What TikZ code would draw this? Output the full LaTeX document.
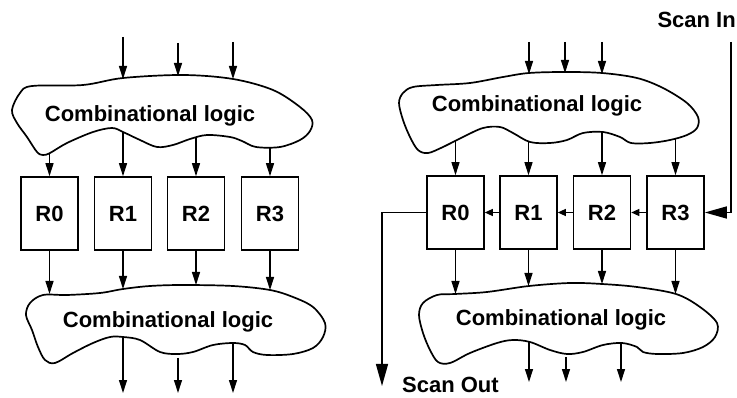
\documentclass[tikz,border=0pt]{standalone}
\usepackage{fontspec}
\setmainfont{Liberation Sans}
\usetikzlibrary{arrows.meta}
\begin{document}
\begin{tikzpicture}[x=1pt,y=-1pt,
  reg/.style={draw,line width=1.6pt,minimum width=57pt,minimum height=73pt,inner sep=0pt,
    font=\bfseries\fontsize{22}{26}\selectfont},
  sig/.style={line width=1.2pt,-{Triangle[length=13pt,width=8pt]}},
  scan/.style={line width=1.2pt,-{Triangle[length=8pt,width=7pt]}},
  scanio/.style={line width=1.4pt,-{Triangle[length=22pt,width=12pt]}},
  blob/.style={draw,fill=white,line width=1.7pt,line join=round},
  lbl/.style={font=\bfseries\fontsize{22}{26}\selectfont,inner sep=0pt}]
\useasboundingbox (0,0) rectangle (737,398);

% ---------- registers ----------
\node[reg] (l0) at (49.5,213.5) {R0};
\node[reg] (l1) at (123,213.5) {R1};
\node[reg] (l2) at (196,213.5) {R2};
\node[reg] (l3) at (270,213.5) {R3};
\node[reg] (r0) at (455.5,212.5) {R0};
\node[reg] (r1) at (528.5,212.5) {R1};
\node[reg] (r2) at (602,212.5) {R2};
\node[reg] (r3) at (675.5,212.5) {R3};

% ---------- signals leaving a logic cloud (start hidden under the cloud) ----------
\coordinate (lu0) at (49.5,145);  \coordinate (lu1) at (123,125);
\coordinate (lu2) at (196,130);   \coordinate (lu3) at (270,140);
\draw[sig] (lu0) -- (l0.north);
\draw[sig] (lu1) -- (l1.north);
\draw[sig] (lu2) -- (l2.north);
\draw[sig] (lu3) -- (l3.north);
\coordinate (ru0) at (455.5,138); \coordinate (ru1) at (528.5,135);
\coordinate (ru2) at (602,127);   \coordinate (ru3) at (675.5,133);
\draw[sig] (ru0) -- (r0.north);
\draw[sig] (ru1) -- (r1.north);
\draw[sig] (ru2) -- (r2.north);
\draw[sig] (ru3) -- (r3.north);
% outputs
\coordinate (lo1) at (123,330); \coordinate (lo1e) at (123,393);
\coordinate (lo2) at (178,358); \coordinate (lo2e) at (178,393);
\coordinate (lo3) at (233,338); \coordinate (lo3e) at (233,393);
\draw[sig] (lo1) -- (lo1e);
\draw[sig] (lo2) -- (lo2e);
\draw[sig] (lo3) -- (lo3e);
\coordinate (ro1) at (529,336); \coordinate (ro1e) at (529,382);
\coordinate (ro2) at (566,357); \coordinate (ro2e) at (566,382);
\coordinate (ro3) at (621,337); \coordinate (ro3e) at (621,382);
\draw[sig] (ro1) -- (ro1e);
\draw[sig] (ro2) -- (ro2e);
\draw[sig] (ro3) -- (ro3e);

% ---------- combinational logic clouds ----------
\draw[blob] plot[smooth cycle,tension=0.55] coordinates {
  (12,110) (20,93) (32,86) (83,85) (123,78) (183,75) (233,79) (273,90) (300,107)
  (312,120) (310,131) (300,140) (280,147) (256,147) (242,141) (230,137) (207,135)
  (190,139) (173,145) (157,147) (140,140) (123,132) (112,128) (93,132) (67,143)
  (50,153) (43,155) (37,152) (27,137) (17,123)};
\draw[blob] plot[smooth cycle,tension=0.55] coordinates {
  (26,315) (30,303) (43,295) (67,295) (100,293) (123,289) (150,286) (183,285)
  (233,286) (270,290) (293,297) (313,307) (325,323) (323,337) (313,348) (293,354)
  (267,355) (253,352) (245,345) (233,343) (213,345) (193,352) (177,354) (160,352)
  (140,340) (123,337) (110,337) (93,343) (73,353) (55,363) (45,360) (38,347) (32,330)};
\draw[blob] plot[smooth cycle,tension=0.55] coordinates {
  (399,103) (403,93) (413,87) (437,85) (470,83) (503,77) (529,73) (565,72) (602,73)
  (637,78) (663,88) (687,103) (698,117) (697,128) (687,135) (670,140) (650,143)
  (631,143) (620,137) (603,132) (583,133) (567,140) (550,143) (530,142) (513,133)
  (500,127) (483,128) (463,137) (443,147) (428,153) (418,150) (410,137) (403,120)};
\draw[blob] plot[smooth cycle,tension=0.55] coordinates {
  (419,315) (423,303) (437,295) (455,294) (487,292) (529,286) (570,283) (602,284)
  (637,287) (676,294) (700,307) (717,323) (715,337) (703,347) (683,353) (657,354)
  (643,352) (637,347) (622,343) (603,345) (583,352) (567,354) (550,350) (530,342)
  (513,340) (497,343) (470,353) (450,363) (438,362) (430,350) (423,333)};

\node[lbl,anchor=base] (tlu) at (150,122) {Combinational logic};
\node[lbl,anchor=base] (tll) at (168,327) {Combinational logic};
\node[lbl,anchor=base] (tru) at (537,111.5) {Combinational logic};
\node[lbl,anchor=base] (trl) at (561,326) {Combinational logic};

% ---------- signals entering a logic cloud ----------
\coordinate (li1) at (123,37); \coordinate (li1e) at (123,79);
\coordinate (li2) at (178,43); \coordinate (li2e) at (178,76);
\coordinate (li3) at (233,42); \coordinate (li3e) at (233,79);
\draw[sig] (li1) -- (li1e);
\draw[sig] (li2) -- (li2e);
\draw[sig] (li3) -- (li3e);
\coordinate (ri1) at (529,42); \coordinate (ri1e) at (529,74);
\coordinate (ri2) at (565,42); \coordinate (ri2e) at (565,73);
\coordinate (ri3) at (602,42); \coordinate (ri3e) at (602,74);
\draw[sig] (ri1) -- (ri1e);
\draw[sig] (ri2) -- (ri2e);
\draw[sig] (ri3) -- (ri3e);
\coordinate (ll0) at (49.5,294); \coordinate (ll1) at (123,289);
\coordinate (ll2) at (196,285);  \coordinate (ll3) at (270,290);
\draw[sig] (l0.south) -- (ll0);
\draw[sig] (l1.south) -- (ll1);
\draw[sig] (l2.south) -- (ll2);
\draw[sig] (l3.south) -- (ll3);
\coordinate (rl0) at (455.5,294); \coordinate (rl1) at (528.5,286);
\coordinate (rl2) at (602,284);   \coordinate (rl3) at (675.5,294);
\draw[sig] (r0.south) -- (rl0);
\draw[sig] (r1.south) -- (rl1);
\draw[sig] (r2.south) -- (rl2);
\draw[sig] (r3.south) -- (rl3);

% ---------- scan chain ----------
\draw[scan] (r3.west) -- (r2.east);
\draw[scan] (r2.west) -- (r1.east);
\draw[scan] (r1.west) -- (r0.east);
\coordinate (sin) at (731,42);
\coordinate (sout) at (382,386);
\draw[scanio] (sin) |- (r3.east);
\draw[scanio] (r0.west) -| (sout);
\node[lbl,anchor=base east] (sinl) at (736,27.5) {Scan In};
\node[lbl,anchor=base west] (soutl) at (402,392) {Scan Out};
\end{tikzpicture}
\end{document}
